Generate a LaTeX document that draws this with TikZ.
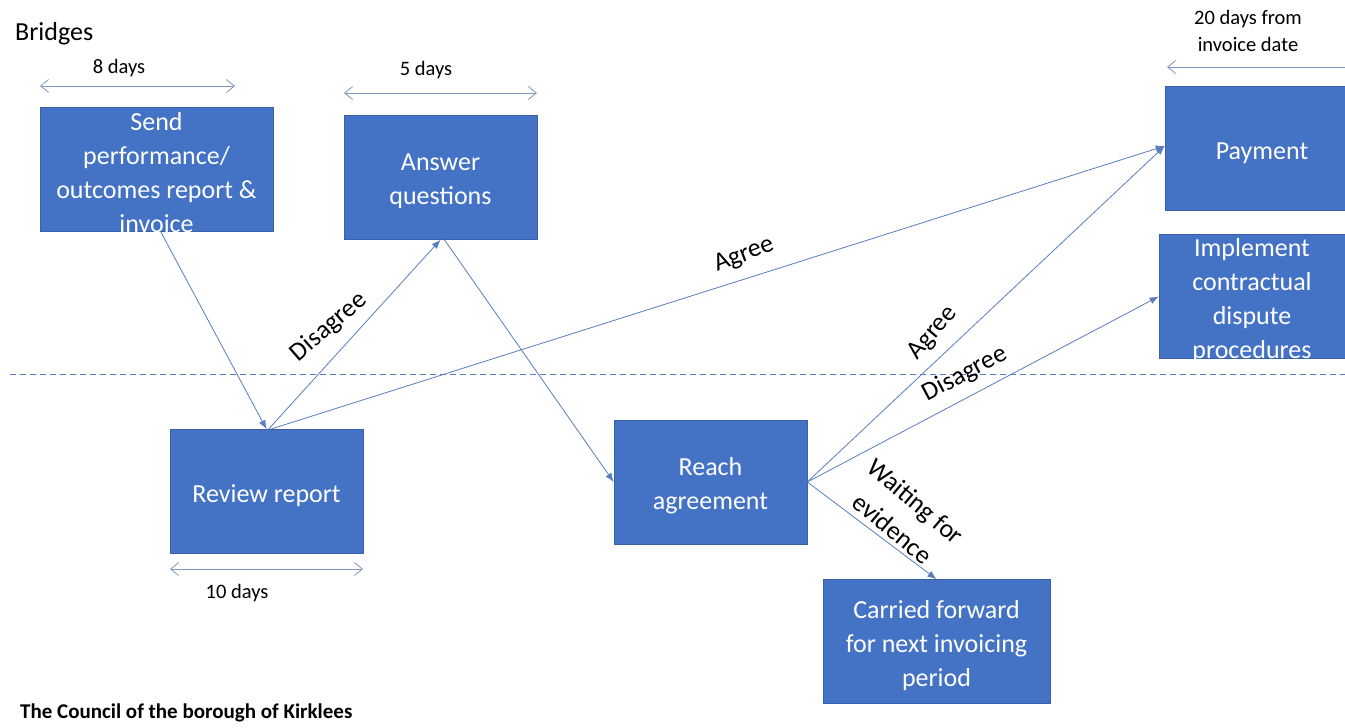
\documentclass[tikz,border=0pt]{standalone}
\usepackage{fontspec}
\setmainfont{Carlito}
\usetikzlibrary{arrows.meta}
\definecolor{boxblue}{HTML}{4472C4}
\definecolor{linkblue}{HTML}{5A7DBF}
\definecolor{dimblue}{HTML}{8197C0}
\tikzset{
  box/.style={draw=boxblue!85!black, line width=0.6pt, fill=boxblue, minimum width=#1, minimum height=124pt, inner sep=0pt},
  boxtext/.style={text=white, align=center, font=\fontsize{26}{34}\selectfont, inner sep=0pt},
  link/.style={draw=linkblue, line width=0.8pt, -{Latex[length=9pt,width=7pt]}},
  dim/.style={draw=dimblue, line width=0.8pt, {Straight Barb[length=8pt,width=13pt]}-{Straight Barb[length=8pt,width=13pt]}},
  dimleft/.style={draw=dimblue, line width=0.8pt, {Straight Barb[length=8pt,width=13pt]}-},
  dimtext/.style={font=\fontsize{20.5}{27}\selectfont, align=center, inner sep=0pt},
  lbl/.style={font=\fontsize{26}{36}\selectfont, align=center, inner sep=0pt},
}
\begin{document}
\begin{tikzpicture}[x=1pt,y=-1pt]
\clip (0,0) rectangle (1345,728);
\fill[white] (0,0) rectangle (1345,728);

% dashed separator
\coordinate (dl) at (10,374);
\coordinate (dr) at (1345,374);
\draw[linkblue, line width=0.9pt, dash pattern=on 6pt off 4pt] (dl) -- (dr);

% boxes
\node[box=233pt] (send) at (156.5,169) {};
\node[boxtext] (sendt) at (156.5,173) {Send\\performance/\\outcomes report \&\\invoice};
\node[box=193pt] (answer) at (440.5,177.5) {};
\node[boxtext] (answert) at (440.5,181) {Answer\\questions};
\node[box=194pt] (payment) at (1262,148) {};
\node[boxtext] (paymentt) at (1262,153) {Payment};
\node[box=186pt] (implement) at (1252,296.5) {};
\node[boxtext] (implementt) at (1252,301) {Implement\\contractual\\dispute\\procedures};
\node[box=193pt] (review) at (266.5,491.5) {};
\node[boxtext] (reviewt) at (266.5,496) {Review report};
\node[box=193pt] (reach) at (710.5,482) {};
\node[boxtext] (reacht) at (710.5,486) {Reach\\agreement};
\node[box=227pt] (carried) at (936.5,641.5) {};
\node[boxtext] (carriedt) at (936.5,646) {Carried forward\\for next invoicing\\period};

% texts
\node[anchor=west, font=\fontsize{26}{30}\selectfont, inner sep=0pt] (bridges) at (15,34) {Bridges};
\node[anchor=west, font=\bfseries\fontsize{21}{25}\selectfont, inner sep=0pt] (council) at (20,713) {The Council of the borough of Kirklees};

% dimension arrows
\coordinate (d8a) at (40,86); \coordinate (d8b) at (235,86);
\draw[dim] (d8a) -- (d8b);
\node[dimtext] (t8) at (119,68) {8 days};
\coordinate (d5a) at (344,93); \coordinate (d5b) at (537,93);
\draw[dim] (d5a) -- (d5b);
\node[dimtext] (t5) at (426,70) {5 days};
\coordinate (d10a) at (170,569); \coordinate (d10b) at (363,569);
\draw[dim] (d10a) -- (d10b);
\node[dimtext] (t10) at (237,593) {10 days};
\coordinate (d20a) at (1167,67); \coordinate (d20b) at (1350,67);
\draw[dimleft] (d20a) -- (d20b);
\node[dimtext] (t20) at (1248,31) {20 days from\\invoice date};

% connectors
\draw[link] ([xshift=4pt]send.south) -- (review.north);
\draw[link] ([xshift=2pt]review.north) -- (answer.south);
\draw[link] ([xshift=4pt]answer.south) -- (reach.west);
\draw[link] ([xshift=4pt]review.north) -- ([yshift=2pt]payment.west);
\draw[link] (reach.east) -- ([yshift=2pt]payment.west);
\draw[link] (reach.east) -- (implement.west);
\draw[link] (reach.east) -- (carried.north);

% connector labels
\node[lbl, rotate=41] (l1) at (329,327) {Disagree};
\node[lbl, rotate=21] (l2) at (744,255) {Agree};
\node[lbl, rotate=50] (l3) at (933,333) {Agree};
\node[lbl, rotate=28] (l4) at (965,374) {Disagree};
\node[lbl, rotate=-40] (l5) at (904,515) {Waiting for\\evidence};
\end{tikzpicture}
\end{document}
